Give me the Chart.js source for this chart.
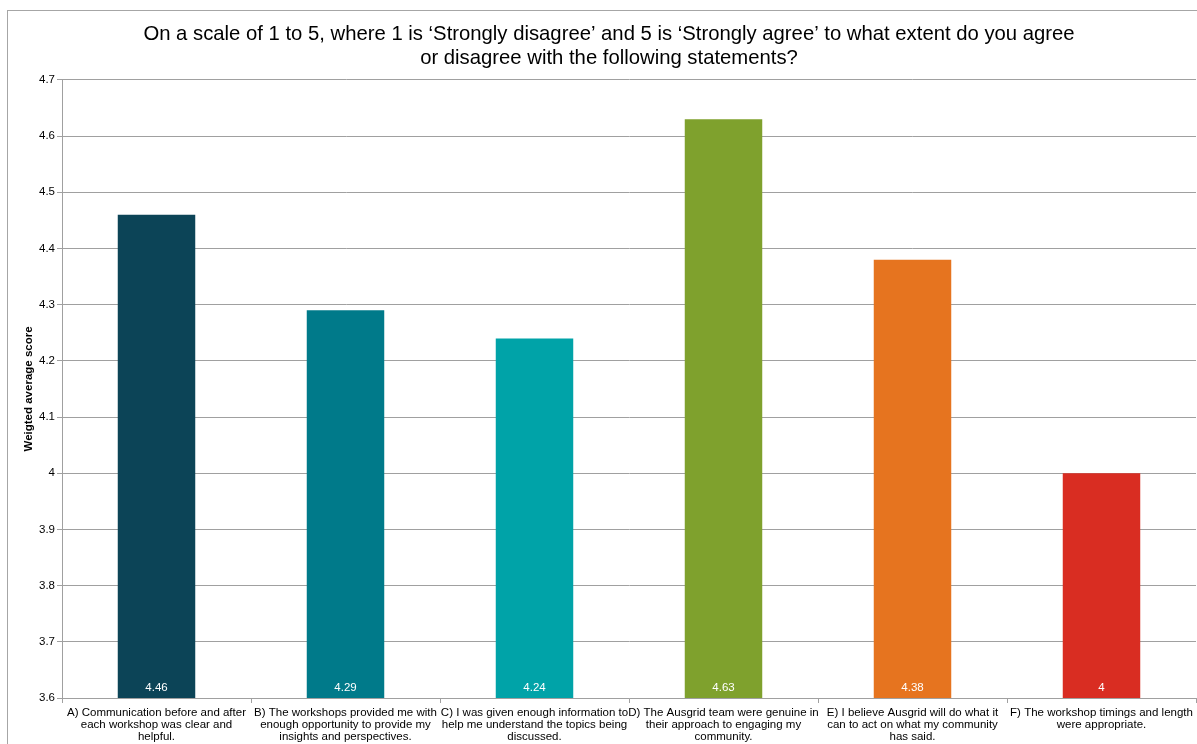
<!DOCTYPE html>
<html lang="en">
<head>
    <meta charset="UTF-8">
    <title>Workshop statements</title>
    <script src="https://cdn.jsdelivr.net/npm/chart.js"></script>
    <style>
        html, body {
            margin: 0;
            padding: 0;
            background: #ffffff;
            overflow: hidden;
        }
        .frame {
            position: absolute;
            left: 7px;
            top: 10px;
            width: 1400px;
            height: 900px;
            border: 1px solid #a6a6a6;
        }
        .chart-box {
            position: absolute;
            left: 0;
            top: 0;
            width: 1197px;
            height: 744px;
        }
    </style>
</head>
<body>
    <div class="frame"></div>
    <div class="chart-box">
        <canvas id="scoreChart"></canvas>
    </div>

    <script>
        // data
        const categories = [
            ['A) Communication before and after', 'each workshop was clear and', 'helpful.'],
            ['B) The workshops provided me with', 'enough opportunity to provide my', 'insights and perspectives.'],
            ['C) I was given enough information to', 'help me understand the topics being', 'discussed.'],
            ['D) The Ausgrid team were genuine in', 'their approach to engaging my', 'community.'],
            ['E) I believe Ausgrid will do what it', 'can to act on what my community', 'has said.'],
            ['F) The workshop timings and length', 'were appropriate.']
        ];
        const scores = [4.46, 4.29, 4.24, 4.63, 4.38, 4];
        const barColors = ['#0c4457', '#007a8a', '#00a3a8', '#7fa12d', '#e6741f', '#d92d22'];
        const yMin = 3.6;
        const yMax = 4.7;
        const yStep = 0.1;

        const titleLines = [
            'On a scale of 1 to 5, where 1 is \u2018Strongly disagree\u2019 and 5 is \u2018Strongly agree\u2019 to what extent do you agree',
            'or disagree with the following statements?'
        ];

        const FONT = '"Liberation Sans", Arial, sans-serif';

        // white value labels near the bottom of each bar
        const valueLabels = {
            id: 'valueLabels',
            afterDraw(chart) {
                const ctx = chart.ctx;
                const meta = chart.getDatasetMeta(0);
                const bottom = chart.chartArea.bottom;
                ctx.save();
                ctx.fillStyle = '#ffffff';
                ctx.font = '11.5px ' + FONT;
                ctx.textAlign = 'center';
                ctx.textBaseline = 'middle';
                meta.data.forEach((bar, i) => {
                    ctx.fillText(String(scores[i]), bar.x, bottom - 10);
                });
                ctx.restore();
            }
        };

        Chart.defaults.font.family = FONT;
        Chart.defaults.color = '#000000';

        new Chart(document.getElementById('scoreChart'), {
            type: 'bar',
            data: {
                labels: categories,
                datasets: [{
                    data: scores,
                    backgroundColor: barColors,
                    borderWidth: 0,
                    barPercentage: 0.41,
                    categoryPercentage: 1
                }]
            },
            options: {
                responsive: true,
                maintainAspectRatio: false,
                animation: false,
                layout: { padding: { top: 0, right: 1, bottom: 0, left: 22 } },
                plugins: {
                    legend: { display: false },
                    tooltip: { enabled: false },
                    title: {
                        display: true,
                        text: titleLines,
                        color: '#000000',
                        font: { size: 20.3, weight: 'normal', lineHeight: 1.18 },
                        padding: { top: 22, bottom: 10 }
                    }
                },
                scales: {
                    x: {
                        grid: {
                            offset: true,
                            drawOnChartArea: false,
                            color: '#a0a0a0',
                            tickLength: 5
                        },
                        border: { color: '#a0a0a0' },
                        ticks: {
                            autoSkip: false,
                            maxRotation: 0,
                            padding: 4,
                            color: '#000000',
                            font: { size: 11.5, lineHeight: 1.05 }
                        },
                        afterFit(scale) { scale.height = 46; }
                    },
                    y: {
                        min: yMin,
                        max: yMax,
                        grid: {
                            color: '#a0a0a0',
                            tickLength: 5
                        },
                        border: { color: '#a0a0a0' },
                        ticks: {
                            stepSize: yStep,
                            padding: 2,
                            color: '#000000',
                            font: { size: 11.5 },
                            callback: v => String(parseFloat(v.toFixed(1)))
                        },
                        title: {
                            display: true,
                            text: 'Weigted average score',
                            color: '#000000',
                            font: { size: 11.5, weight: 'bold' },
                            padding: { top: 0, bottom: 0 }
                        },
                        afterFit(scale) { scale.width = 40; }
                    }
                }
            },
            plugins: [valueLabels]
        });
    </script>
</body>
</html>
